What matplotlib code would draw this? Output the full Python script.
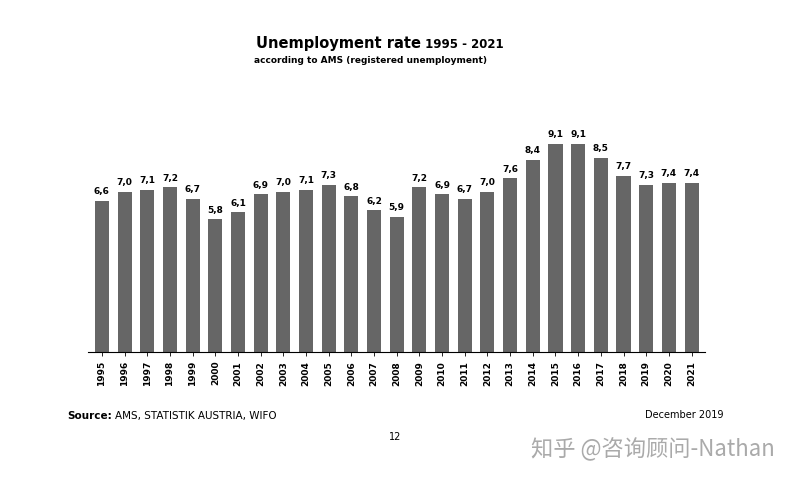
import matplotlib
matplotlib.use("Agg")
import matplotlib.pyplot as plt

years = [str(y) for y in range(1995, 2022)]
values = [6.6, 7.0, 7.1, 7.2, 6.7, 5.8, 6.1, 6.9, 7.0, 7.1, 7.3, 6.8, 6.2, 5.9,
          7.2, 6.9, 6.7, 7.0, 7.6, 8.4, 9.1, 9.1, 8.5, 7.7, 7.3, 7.4, 7.4]

plt.rcParams['font.family'] = ['DejaVu Sans', 'Noto Sans CJK SC']
fig = plt.figure(figsize=(7.95, 4.8), dpi=100)
ax = fig.add_axes([0.111, 0.267, 0.776, 0.5])
x = range(len(years))
ax.bar(x, values, width=0.62, color='#666666')
for i, v in zip(x, values):
    ax.text(i, v + 0.2, f"{v:.1f}".replace('.', ','), ha='center', va='bottom',
            fontsize=6.5, fontweight='bold')
ax.set_xlim(-0.6, len(years) - 0.4)
ax.set_ylim(0, 10.5)
ax.set_xticks(list(x))
ax.set_xticklabels(years, rotation=90, fontsize=6.5, fontweight='bold')
ax.tick_params(axis='x', length=3, width=0.6)
ax.set_yticks([])
for s in ['top', 'right', 'left']:
    ax.spines[s].set_visible(False)
ax.spines['bottom'].set_linewidth(0.8)

fig.text(0.53, 0.9, "Unemployment rate", ha='right', fontsize=10.5, fontweight='bold')
fig.text(0.53, 0.9, " 1995 - 2021", ha='left', fontsize=8.5, fontweight='bold')
fig.text(0.466, 0.868, "according to AMS (registered unemployment)", ha='center',
         fontsize=6.5, fontweight='bold')
fig.text(0.085, 0.127, "Source:", fontsize=7.5, fontweight='bold')
fig.text(0.145, 0.127, "AMS, STATISTIK AUSTRIA, WIFO", fontsize=7.5)
fig.text(0.91, 0.13, "December 2019", ha='right', fontsize=7)
fig.text(0.497, 0.083, "12", ha='center', fontsize=7)
fig.text(0.975, 0.05, "知乎 @咨询顾问-Nathan", ha='right', fontsize=16,
         color='#aaaaaa', family=['Noto Sans CJK SC', 'DejaVu Sans'])
fig.savefig("out.png", dpi=100, facecolor='white')
